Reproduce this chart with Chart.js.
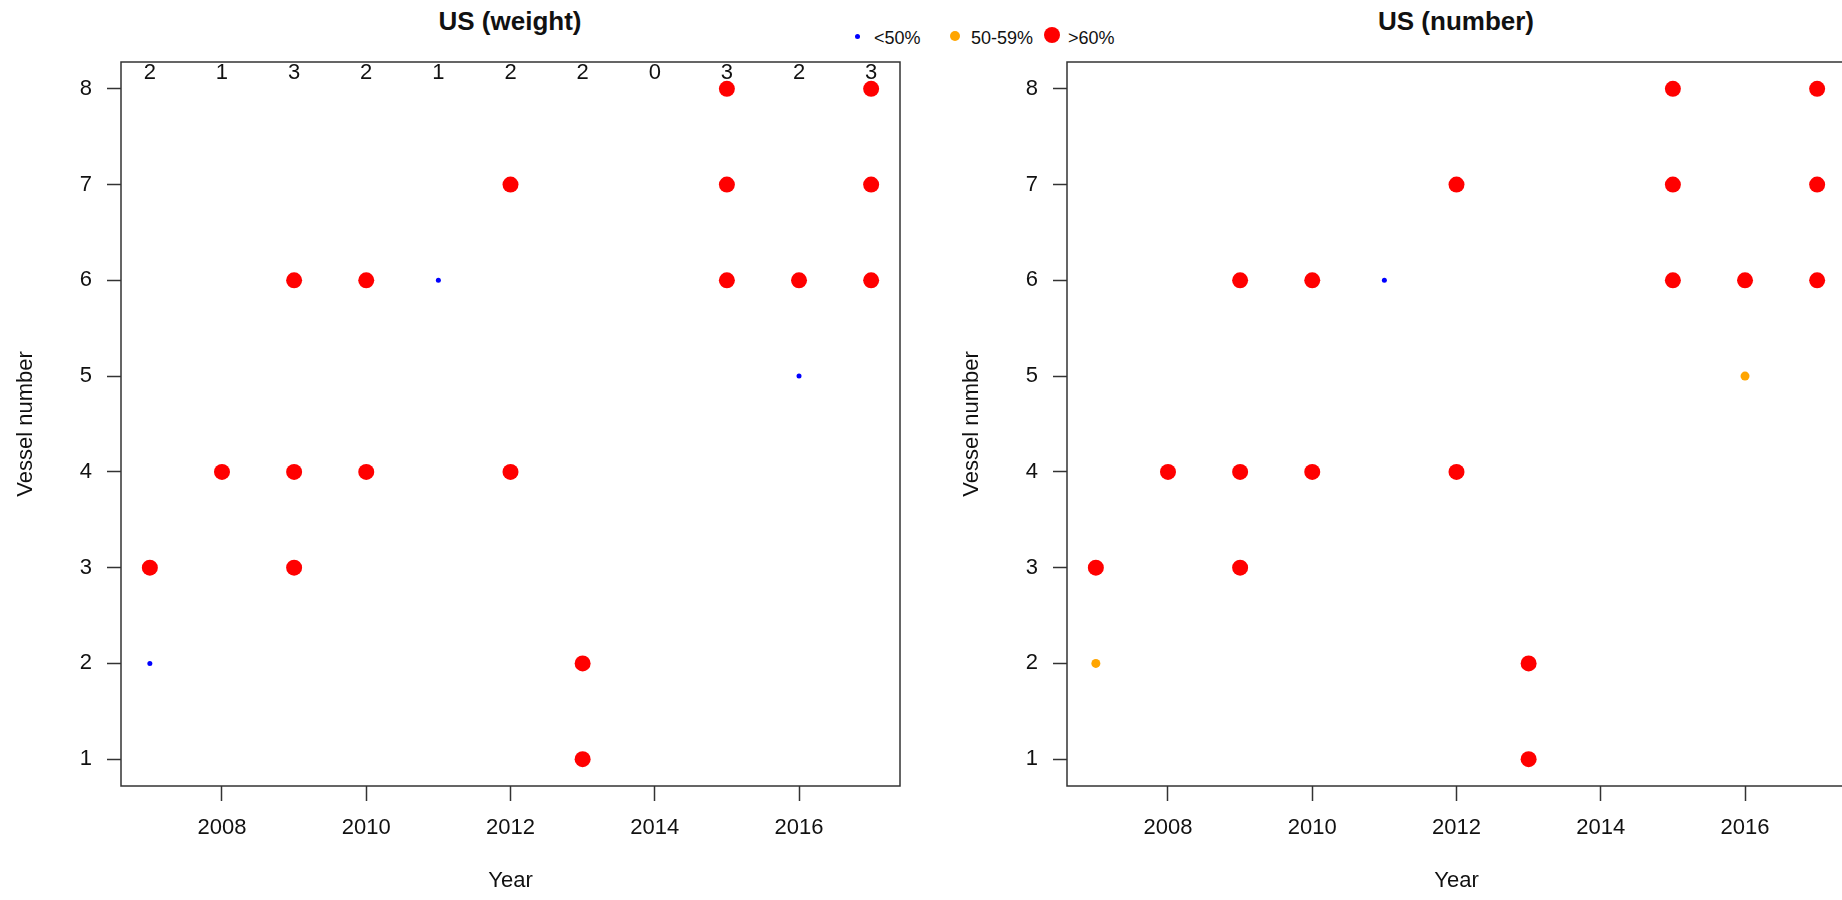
<!DOCTYPE html>
<html>
<head>
<meta charset="utf-8">
<title>US vessels</title>
<script src="https://cdn.jsdelivr.net/npm/chart.js@4.4.0/dist/chart.umd.min.js"></script>
<style>
  body { margin: 0; width: 1842px; height: 900px; overflow: hidden; background: #fff; position: relative;
         font-family: "Liberation Sans", Arial, sans-serif; color: #111; }
  canvas { position: absolute; top: 0; }
  .title { position: absolute; top: 6px; width: 400px; text-align: center; font-weight: bold; font-size: 26px; line-height: 30px; }
  .leg { position: absolute; font-size: 18px; line-height: 22px; top: 27px; }
  .dot { position: absolute; border-radius: 50%; }
</style>
</head>
<body>
<div class="title" style="left:310px">US (weight)</div>
<div class="title" style="left:1256px">US (number)</div>

<span class="dot" style="left:854.5px; top:33.5px; width:5px; height:5px; background:#0000ff"></span>
<span class="leg" style="left:874px">&lt;50%</span>
<span class="dot" style="left:950px; top:31px; width:10px; height:10px; background:#ffa500"></span>
<span class="leg" style="left:971px">50-59%</span>
<span class="dot" style="left:1044px; top:27px; width:16px; height:16px; background:#ff0000"></span>
<span class="leg" style="left:1068px">&gt;60%</span>

<canvas id="weightChart" width="920" height="900" style="left:0px"></canvas>
<canvas id="numberChart" width="920" height="900" style="left:946px"></canvas>

<script>
// years shown across the top with the count of vessels per year
const years = [2007, 2008, 2009, 2010, 2011, 2012, 2013, 2014, 2015, 2016, 2017];
const weightCounts = [2, 1, 3, 2, 1, 2, 2, 0, 3, 2, 3];

const yearTicks = [2008, 2010, 2012, 2014, 2016];
const vesselTicks = [1, 2, 3, 4, 5, 6, 7, 8];

// class: 0 = <50%, 1 = 50-59%, 2 = >60%
const weightYear   = [2007, 2007, 2008, 2009, 2009, 2009, 2010, 2010, 2011, 2012, 2012, 2013, 2013, 2015, 2015, 2015, 2016, 2016, 2017, 2017, 2017];
const weightVessel = [3, 2, 4, 6, 4, 3, 6, 4, 6, 7, 4, 2, 1, 8, 7, 6, 6, 5, 8, 7, 6];
const weightClass  = [2, 0, 2, 2, 2, 2, 2, 2, 0, 2, 2, 2, 2, 2, 2, 2, 2, 0, 2, 2, 2];

const numberYear   = [2007, 2007, 2008, 2009, 2009, 2009, 2010, 2010, 2011, 2012, 2012, 2013, 2013, 2015, 2015, 2015, 2016, 2016, 2017, 2017, 2017];
const numberVessel = [3, 2, 4, 6, 4, 3, 6, 4, 6, 7, 4, 2, 1, 8, 7, 6, 6, 5, 8, 7, 6];
const numberClass  = [2, 1, 2, 2, 2, 2, 2, 2, 0, 2, 2, 2, 2, 2, 2, 2, 2, 1, 2, 2, 2];

const classLabels = ["<50%", "50-59%", ">60%"];
const classColors = ["#0000ff", "#ffa500", "#ff0000"];
const classRadius = [2.5, 4.5, 8];

const FONT = "'Liberation Sans', Arial, sans-serif";
const COUNT_LEVEL = 8.17;

const boxPlugin = {
  id: "box",
  afterDraw(chart, args, opts) {
    const ctx = chart.ctx;
    const a = chart.chartArea;
    ctx.save();
    ctx.strokeStyle = "#333";
    ctx.lineWidth = 1.5;
    ctx.strokeRect(a.left, a.top, a.right - a.left, a.bottom - a.top);

    if (opts.counts) {
      ctx.fillStyle = "#111";
      ctx.font = "22px " + FONT;
      ctx.textAlign = "center";
      ctx.textBaseline = "middle";
      const yp = chart.scales.y.getPixelForValue(COUNT_LEVEL);
      opts.counts.forEach((c, i) => {
        ctx.fillText(String(c), chart.scales.x.getPixelForValue(years[i]), yp);
      });
    }
    ctx.restore();
  }
};

function buildDatasets(yrs, vessels, cls) {
  return classLabels.map((label, k) => {
    const pts = [];
    yrs.forEach((yr, i) => {
      if (cls[i] === k) pts.push({ x: yr, y: vessels[i] });
    });
    return {
      label: label,
      data: pts,
      backgroundColor: classColors[k],
      borderWidth: 0,
      pointRadius: classRadius[k],
      pointHoverRadius: classRadius[k]
    };
  });
}

function drawPanel(id, yrs, vessels, cls, counts) {
  const ctx = document.getElementById(id).getContext("2d");
  new Chart(ctx, {
    type: "scatter",
    data: { datasets: buildDatasets(yrs, vessels, cls) },
    options: {
      responsive: false,
      animation: false,
      devicePixelRatio: 1,
      layout: { padding: { top: 62, right: 20, left: 0, bottom: 0 } },
      plugins: {
        legend: { display: false },
        tooltip: { enabled: false },
        box: { counts: counts }
      },
      scales: {
        x: {
          type: "linear",
          min: 2006.6,
          max: 2017.4,
          afterFit: (s) => { s.height = 114; },
          afterBuildTicks: (s) => { s.ticks = yearTicks.map((v) => ({ value: v })); },
          border: { display: false },
          grid: { drawOnChartArea: false, drawTicks: true, tickLength: 15, tickColor: "#333", tickWidth: 1.5 },
          ticks: {
            padding: 14,
            color: "#111",
            font: { family: FONT, size: 22 },
            maxRotation: 0,
            callback: (v) => String(v)
          },
          title: {
            display: true,
            text: "Year",
            color: "#111",
            font: { family: FONT, size: 22 },
            padding: { top: 0, bottom: 6 }
          }
        },
        y: {
          type: "linear",
          min: 0.72,
          max: 8.28,
          afterFit: (s) => { s.width = 121; },
          afterBuildTicks: (s) => { s.ticks = vesselTicks.map((v) => ({ value: v })); },
          border: { display: false },
          grid: { drawOnChartArea: false, drawTicks: true, tickLength: 14, tickColor: "#333", tickWidth: 1.5 },
          ticks: {
            padding: 15,
            color: "#111",
            font: { family: FONT, size: 22 },
            callback: (v) => String(v)
          },
          title: {
            display: true,
            text: "Vessel number",
            color: "#111",
            font: { family: FONT, size: 22 },
            padding: { top: 13, bottom: 0 }
          }
        }
      }
    },
    plugins: [boxPlugin]
  });
}

window.onload = function () {
  drawPanel("weightChart", weightYear, weightVessel, weightClass, weightCounts);
  drawPanel("numberChart", numberYear, numberVessel, numberClass, null);
};
</script>
</body>
</html>
